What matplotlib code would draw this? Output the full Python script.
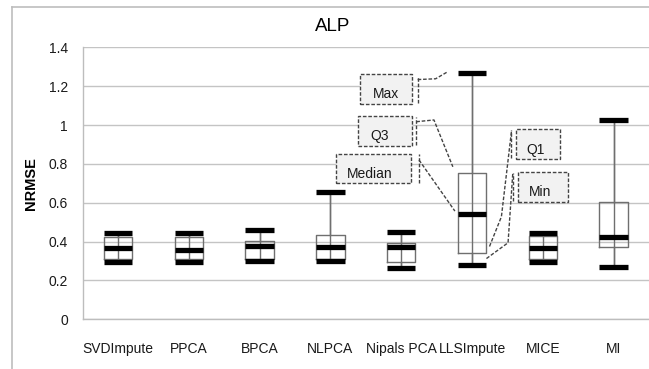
import numpy as np
import matplotlib
matplotlib.use('Agg')
import matplotlib.pyplot as plt
from matplotlib.patches import Rectangle
from matplotlib.lines import Line2D

plt.rcParams['font.family'] = ['Liberation Sans', 'DejaVu Sans']

categories = ['SVDImpute', 'PPCA', 'BPCA', 'NLPCA', 'Nipals PCA', 'LLSImpute', 'MICE', 'MI']
mins = [0.295, 0.295, 0.300, 0.300, 0.265, 0.280, 0.295, 0.270]
q1s = [0.310, 0.310, 0.310, 0.310, 0.295, 0.340, 0.310, 0.370]
medians = [0.365, 0.355, 0.375, 0.370, 0.370, 0.540, 0.365, 0.425]
q3s = [0.425, 0.425, 0.405, 0.435, 0.395, 0.755, 0.430, 0.605]
maxs = [0.445, 0.445, 0.460, 0.655, 0.450, 1.270, 0.445, 1.025]

# callout labels pointing at the LLSImpute box
callout_labels = ['Max', 'Q3', 'Median', 'Q1', 'Min']

fig = plt.figure(figsize=(6.49, 3.69), dpi=100)
ax = fig.add_axes([0.1274, 0.1347, 0.8726, 0.7371])

positions = np.arange(1, len(categories) + 1)
stats = []
for i, name in enumerate(categories):
    stats.append(dict(label=name, whislo=mins[i], q1=q1s[i], med=medians[i],
                      q3=q3s[i], whishi=maxs[i], fliers=[]))

# whisker line runs through the whole box, as in the Excel chart
ax.vlines(positions, mins, maxs, color='#6f6f6f', lw=1.0, zorder=2)
ax.bxp(stats, positions=positions, widths=0.4,
       capwidths=0.4, showfliers=False,
       boxprops=dict(color='#6f6f6f', lw=1.0),
       whiskerprops=dict(color='#6f6f6f', lw=1.0),
       capprops=dict(color='black', lw=3.8, solid_capstyle='butt'),
       medianprops=dict(color='black', lw=3.8, solid_capstyle='butt'))

ax.set_xlim(0.5, 8.5)
ax.set_ylim(0, 1.4)
ax.set_yticks(np.arange(0, 1.41, 0.2))
ax.set_yticklabels(['0', '0.2', '0.4', '0.6', '0.8', '1', '1.2', '1.4'])
ax.yaxis.grid(True, color='#c4c4c4', lw=1.0)
ax.set_axisbelow(True)
ax.tick_params(axis='both', length=0, labelsize=10, colors='#1a1a1a')
ax.tick_params(axis='y', pad=10.5)
ax.tick_params(axis='x', pad=16)
for s in ['top', 'right']:
    ax.spines[s].set_visible(False)
for s in ['left', 'bottom']:
    ax.spines[s].set_color('#bdbdbd')
    ax.spines[s].set_linewidth(1.0)
ax.set_ylabel('NRMSE', fontsize=10.5, fontweight='bold', labelpad=8)
fig.text(0.513, 0.927, 'ALP', fontsize=13.5, ha='center', va='center')

# outer chart frame
fig.add_artist(Line2D([12 / 649, 12 / 649], [0, 1 - 7 / 369], transform=fig.transFigure,
                      color='#bdbdbd', lw=1.2))
fig.add_artist(Line2D([12 / 649, 1], [1 - 7 / 369, 1 - 7 / 369], transform=fig.transFigure,
                      color='#bdbdbd', lw=1.2))

# callouts: box (x0, x1, y0, y1), text pos, bracket x, bracket y range, leader path
callouts = [
    ((4.415, 5.156, 1.108, 1.262), (4.79, 1.160), 5.232, (1.113, 1.252),
     [(5.232, 1.234), (5.486, 1.238), (5.655, 1.274)]),
    ((4.396, 5.148, 0.894, 1.046), (4.69, 0.943), 5.213, (0.897, 1.041),
     [(5.213, 1.017), (5.462, 1.026), (5.729, 0.785)]),
    ((4.077, 5.142, 0.700, 0.851), (4.56, 0.750), 5.251, (0.700, 0.849),
     [(5.251, 0.820), (5.758, 0.557)]),
    ((6.621, 7.246, 0.825, 0.979), (6.90, 0.872), 6.556, (0.830, 0.974),
     [(6.556, 0.964), (6.415, 0.528), (6.246, 0.374)]),
    ((6.649, 7.353, 0.605, 0.760), (6.96, 0.656), 6.575, (0.609, 0.753),
     [(6.575, 0.748), (6.509, 0.394), (6.190, 0.309)]),
]
dash = (0, (2.6, 1.3))
for label, (box, tpos, bx, by, path) in zip(callout_labels, callouts):
    ax.add_patch(Rectangle((box[0], box[2]), box[1] - box[0], box[3] - box[2],
                           facecolor='#f2f2f2', edgecolor='#444444', lw=1.0,
                           linestyle=dash, clip_on=False, zorder=5))
    ax.text(tpos[0], tpos[1], label, fontsize=10, ha='center', va='center',
            color='#1a1a1a', zorder=6)
    ax.plot([bx, bx], by, color='#444444', lw=1.0, linestyle=dash, clip_on=False, zorder=5)
    px = [p[0] for p in path]
    py = [p[1] for p in path]
    ax.plot(px, py, color='#444444', lw=1.0, linestyle=dash, clip_on=False, zorder=5)

fig.savefig('out.png', dpi=100)
